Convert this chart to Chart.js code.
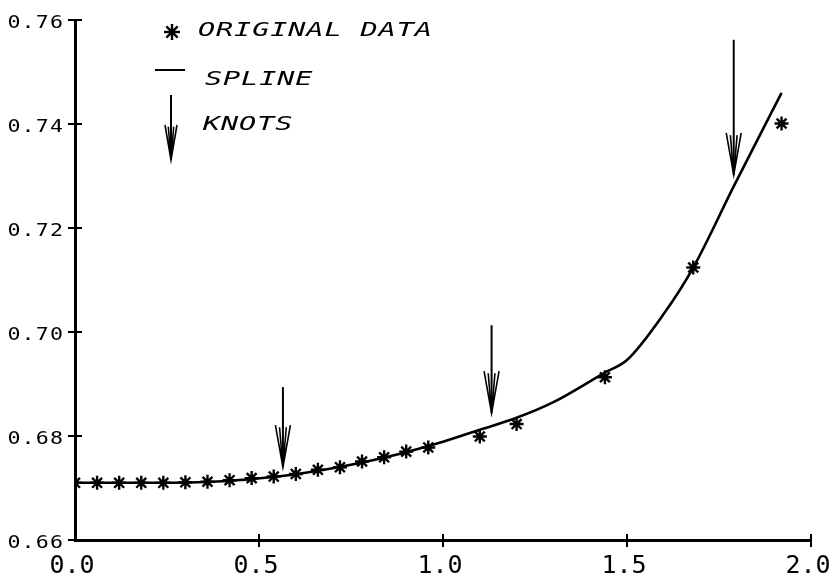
<!DOCTYPE html>
<html><head><meta charset="utf-8">
<style>html,body{margin:0;padding:0;background:#fff}#wrap{width:836px;height:582px}</style>
<script src="https://cdn.jsdelivr.net/npm/chart.js@4.4.1/dist/chart.umd.min.js"></script>
</head><body><div id="wrap"><canvas id="c" width="836" height="582"></canvas></div>
<script>
// ---- data ----
const dataX = [0.00,0.06,0.12,0.18,0.24,0.30,0.36,0.42,0.48,0.54,0.60,0.66,0.72,0.78,0.84,0.90,0.96,1.10,1.20,1.44,1.68,1.92];
const dataY = [0.6710,0.6710,0.6710,0.6710,0.6710,0.6711,0.6712,0.6715,0.6719,0.6722,0.6727,0.6735,0.6740,0.6751,0.6759,0.6770,0.6778,0.6799,0.6823,0.6913,0.7124,0.7401];
const splineX = [0.00,0.20,0.40,0.55,0.70,0.85,1.00,1.10,1.20,1.30,1.44,1.50,1.60,1.68,1.79,1.92];
const splineY = [0.6710,0.6710,0.6713,0.6722,0.6738,0.6760,0.6789,0.6812,0.6835,0.6865,0.6922,0.6946,0.7035,0.7124,0.7280,0.7460];
const knotX = [0.565,1.132,1.790];
const knotTop = [0.6894,0.7013,0.7562];
const knotTip = [0.6740,0.6844,0.7302];
const legendLabels = ['ORIGINAL DATA','SPLINE','KNOTS'];
const xTickValues = [0.0,0.5,1.0,1.5,2.0];
const yTickValues = [0.66,0.68,0.70,0.72,0.74,0.76];

function drawText(ctx, text, x, y, font, sx, ls, align) {
  ctx.save();
  ctx.font = font;
  ctx.letterSpacing = ls + 'px';
  ctx.textBaseline = 'alphabetic';
  ctx.textAlign = 'left';
  const w = (ctx.measureText(text).width - ls) * sx;
  let x0 = x;
  if (align === 'right') x0 = x - w;
  else if (align === 'center') x0 = x - w / 2;
  ctx.translate(x0, y);
  ctx.scale(sx, 1);
  ctx.fillStyle = '#000';
  ctx.fillText(text, 0, 0);
  ctx.restore();
}
function line(ctx, x1, y1, x2, y2, w) {
  ctx.beginPath(); ctx.lineWidth = w; ctx.moveTo(x1, y1); ctx.lineTo(x2, y2); ctx.stroke();
}
function arrow(ctx, px, topY, tipY, head, hw) {
  line(ctx, px, topY, px, tipY, 2);
  ctx.beginPath(); ctx.lineWidth = 1.6;
  ctx.moveTo(px - hw, tipY - head); ctx.lineTo(px, tipY); ctx.lineTo(px + hw, tipY - head);
  ctx.moveTo(px - hw * 0.45, tipY - head * 0.95); ctx.lineTo(px, tipY); ctx.lineTo(px + hw * 0.45, tipY - head * 0.95);
  ctx.stroke();
}
function star(ctx, cx, cy, r) {
  for (let i = 0; i < 4; i++) {
    const a = i * Math.PI / 4;
    line(ctx, cx - r * Math.cos(a), cy - r * Math.sin(a), cx + r * Math.cos(a), cy + r * Math.sin(a), 2.4);
  }
}

const deco = {
  id: 'deco',
  afterDraw(chart) {
    const {ctx, chartArea: a, scales: {x, y}} = chart;
    ctx.save();
    ctx.strokeStyle = '#000';
    ctx.lineCap = 'butt';
    // tick marks crossing the axes
    y.ticks.forEach(t => { const py = y.getPixelForValue(t.value); line(ctx, a.left - 7, py, a.left + 7, py, 2); });
    x.ticks.forEach(t => { if (t.value === 0) return; const px = x.getPixelForValue(t.value); line(ctx, px, a.bottom - 6, px, a.bottom + 7, 2); });
    // tick labels
    y.ticks.forEach(t => {
      const py = y.getPixelForValue(t.value);
      drawText(ctx, t.value.toFixed(2), a.left - 12, py + 7.5, '18px "DejaVu Sans Mono"', 1.2, 1, 'right');
    });
    x.ticks.forEach(t => {
      const px = x.getPixelForValue(t.value);
      drawText(ctx, t.value.toFixed(1), px - 3, a.bottom + 33, '25px "DejaVu Sans Mono"', 1.0, 0, 'center');
    });
    // knot arrows
    knotX.forEach((k, i) => {
      arrow(ctx, x.getPixelForValue(k), y.getPixelForValue(knotTop[i]), y.getPixelForValue(knotTip[i]), 42, 7.5);
    });
    // legend
    star(ctx, 172, 32, 8);
    line(ctx, 155, 70, 185, 70, 2);
    arrow(ctx, 171, 95, 160, 35, 6);
    const lf = 'italic 19px "DejaVu Sans Mono"';
    drawText(ctx, legendLabels[0], 198, 36, lf, 1.5, 0.6, 'left');
    drawText(ctx, legendLabels[1], 205, 85, lf, 1.5, 0.6, 'left');
    drawText(ctx, legendLabels[2], 203, 130, lf, 1.5, 0.6, 'left');
    ctx.restore();
  }
};

new Chart(document.getElementById('c'), {
  type: 'scatter',
  data: {
    datasets: [
      {
        label: 'SPLINE',
        data: splineX.map((v, i) => ({x: v, y: splineY[i]})),
        showLine: true,
        cubicInterpolationMode: 'monotone',
        borderColor: '#000',
        borderWidth: 2.6,
        pointRadius: 0,
        fill: false
      },
      {
        label: 'ORIGINAL DATA',
        data: dataX.map((v, i) => ({x: v, y: dataY[i]})),
        showLine: false,
        pointStyle: 'star',
        pointRadius: 7,
        pointBorderWidth: 2.4,
        borderColor: '#000',
        backgroundColor: '#000'
      }
    ]
  },
  options: {
    responsive: false,
    animation: false,
    devicePixelRatio: 1,
    layout: {padding: {top: 20, right: 25, left: 0, bottom: 0}},
    plugins: {legend: {display: false}, tooltip: {enabled: false}},
    scales: {
      x: {
        type: 'linear', min: 0, max: 2,
        afterBuildTicks: s => { s.ticks = xTickValues.map(v => ({value: v})); },
        ticks: {display: false},
        grid: {display: false},
        border: {display: true, color: '#000', width: 3},
        afterFit: s => { s.height = 42; }
      },
      y: {
        type: 'linear', min: 0.66, max: 0.76,
        afterBuildTicks: s => { s.ticks = yTickValues.map(v => ({value: v})); },
        ticks: {display: false},
        grid: {display: false},
        border: {display: true, color: '#000', width: 3},
        afterFit: s => { s.width = 75; }
      }
    }
  },
  plugins: [deco]
});
</script></body></html>
